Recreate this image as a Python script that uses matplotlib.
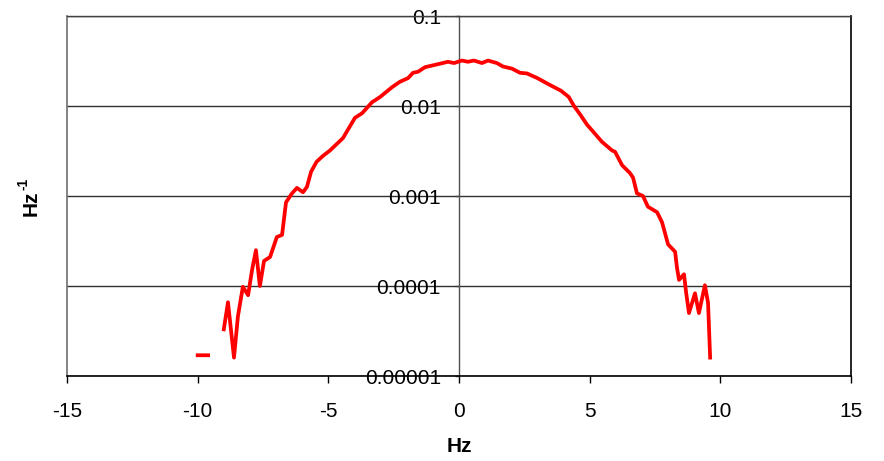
import numpy as np
import matplotlib
matplotlib.use('Agg')
import matplotlib.pyplot as plt

# Spectrum values (x in Hz, density in 1/Hz); NaN splits the line into two pieces
freq_hz = [-10.0, -9.6, np.nan,
           -9.0, -8.84, -8.61, -8.46, -8.27, -8.07, -7.92, -7.77, -7.62, -7.46,
           -7.23, -6.97, -6.77, -6.62, -6.39, -6.20, -5.97, -5.82, -5.66, -5.45,
           -5.2, -4.94, -4.44, -3.98, -3.71, -3.33, -3.02, -2.56, -2.26, -1.95,
           -1.76, -1.57, -1.30, -0.84, -0.42, -0.19, 0.11, 0.34, 0.57, 0.88,
           1.11, 1.45, 1.68, 2.03, 2.33, 2.60, 3.0, 3.5, 3.9, 4.2, 4.4, 4.63,
           4.90, 5.13, 5.47, 5.86, 5.97, 6.24, 6.54, 6.66, 6.81, 7.04, 7.23,
           7.58, 7.77, 8.0, 8.27, 8.34, 8.42, 8.61, 8.69, 8.80, 9.03, 9.18,
           9.41, 9.53, 9.61]
density = [1.7e-5, 1.7e-5, np.nan,
           3.3e-5, 6.6e-5, 1.6e-5, 4.6e-5, 9.8e-5, 7.9e-5, 1.5e-4, 2.5e-4, 1.0e-4, 1.9e-4,
           2.1e-4, 3.5e-4, 3.7e-4, 8.5e-4, 1.07e-3, 1.23e-3, 1.10e-3, 1.26e-3, 1.86e-3, 2.4e-3,
           2.8e-3, 3.2e-3, 4.4e-3, 7.4e-3, 8.3e-3, 1.10e-2, 1.26e-2, 1.62e-2, 1.86e-2, 2.04e-2,
           2.34e-2, 2.4e-2, 2.7e-2, 2.9e-2, 3.1e-2, 3.0e-2, 3.2e-2, 3.1e-2, 3.2e-2, 3.0e-2,
           3.2e-2, 3.0e-2, 2.75e-2, 2.6e-2, 2.34e-2, 2.3e-2, 2.04e-2, 1.7e-2, 1.48e-2, 1.26e-2, 1.0e-2, 8.1e-3,
           6.2e-3, 5.2e-3, 4.0e-3, 3.2e-3, 3.1e-3, 2.2e-3, 1.8e-3, 1.6e-3, 1.07e-3, 1.0e-3, 7.6e-4,
           6.6e-4, 5.1e-4, 2.9e-4, 2.4e-4, 1.6e-4, 1.17e-4, 1.35e-4, 8.5e-5, 5.0e-5, 8.3e-5, 5.0e-5,
           1.02e-4, 6.5e-5, 1.6e-5]

x_ticks = [-15, -10, -5, 0, 5, 10, 15]
y_ticks = [1e-5, 1e-4, 1e-3, 1e-2, 1e-1]
y_tick_labels = ['0.00001', '0.0001', '0.001', '0.01', '0.1']

plt.rcParams['font.family'] = ['Liberation Sans', 'DejaVu Sans']

fig = plt.figure(figsize=(8.84, 4.61), dpi=100, facecolor='w')
ax = fig.add_axes([67/884, 1 - 376/461, (851 - 67)/884, (376 - 16)/461])

ax.plot(freq_hz, density, color='#ff0000', linewidth=2.7, solid_joinstyle='round', zorder=3)

ax.set_yscale('log')
ax.set_xlim(-15, 15)
ax.set_ylim(1e-5, 1e-1)

# y axis sits on x = 0
ax.spines['left'].set_position(('data', 0))
ax.spines['left'].set_color('#505050')
ax.spines['left'].set_linewidth(1.0)
ax.spines['right'].set_color('black')
ax.spines['right'].set_linewidth(1.2)
ax.spines['bottom'].set_color('black')
ax.spines['bottom'].set_linewidth(1.2)
ax.spines['top'].set_color('#404040')
ax.spines['top'].set_linewidth(1.0)
# left border of the plot area
ax.axvline(-15, color='#707070', linewidth=1.2, clip_on=False, zorder=2)

ax.set_yticks(y_ticks)
ax.set_yticklabels(y_tick_labels)
ax.yaxis.set_minor_locator(matplotlib.ticker.NullLocator())
ax.set_xticks(x_ticks)
ax.set_xticklabels([str(t) for t in x_ticks])

ax.tick_params(axis='y', direction='out', length=3, width=1, color='#404040',
               pad=10, labelsize=15)
ax.tick_params(axis='x', direction='out', length=5, width=1, color='black',
               pad=14, labelsize=15)

ax.grid(axis='y', which='major', color='#303030', linewidth=1.0, zorder=1)
ax.set_axisbelow(True)

fig.text(459/884, 1 - 446/461, 'Hz', ha='center', va='center',
         fontsize=15, fontweight='bold')
# rotated y label with a plain hyphen in the exponent
fig.text(31/884, 1 - 203/461, 'Hz', ha='center', va='center',
         rotation=90, fontsize=15, fontweight='bold')
fig.text(23/884, 1 - 184/461, '-1', ha='center', va='center',
         rotation=90, fontsize=10, fontweight='bold')

plt.savefig('out.png', dpi=100)
plt.close()
